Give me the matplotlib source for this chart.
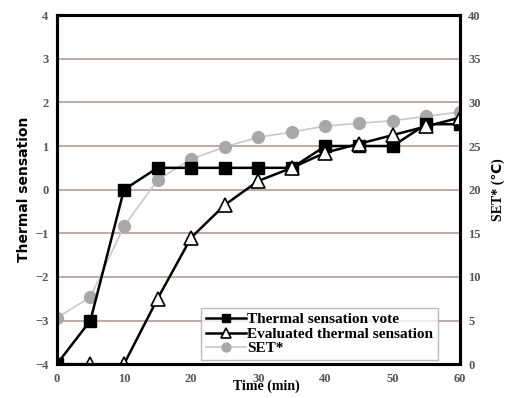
import matplotlib.pyplot as plt
import numpy as np

# time steps (min)
time = [0, 5, 10, 15, 20, 25, 30, 35, 40, 45, 50, 55, 60]

# thermal sensation vote and evaluated sensation (left axis)
vote = [-4, -3, 0, 0.5, 0.5, 0.5, 0.5, 0.5, 1, 1, 1, 1.5, 1.5]
evaluated = [-4, -4, -4, -2.5, -1.1, -0.35, 0.2, 0.5, 0.85, 1.05, 1.25, 1.45, 1.65]

# SET* (right axis, degC)
set_star = [5.3, 7.7, 15.8, 21.1, 23.5, 24.9, 26.0, 26.6, 27.3, 27.6, 27.9, 28.4, 28.9]

serif = 'Liberation Serif'
grid_col = '#b5a59f'
tick_col = '#555555'

fig = plt.figure(figsize=(5.12, 3.98), dpi=100)
ax = fig.add_axes([0.111, 0.085, 0.787, 0.877])
ax2 = ax.twinx()

# grid lives on the lower (twin) axes so everything sits on top of it
ax2.set_xlim(0, 60)
ax2.set_ylim(0, 40)
ax2.set_yticks(np.arange(0, 41, 5))
ax2.set_xticks(np.arange(0, 61, 10))
ax2.grid(True, color=grid_col, lw=1.3)
ax2.set_axisbelow(True)
ax2.plot(time, set_star, color='#c8c8c8', lw=1.2, marker='o', ms=8.5,
         mfc='#a8a8a8', mec='#a8a8a8', label='SET*', zorder=3)

ax.set_zorder(ax2.get_zorder() + 1)
ax.patch.set_visible(False)
ax.plot(time, vote, color='black', lw=1.8, marker='s', ms=8.5,
        mfc='black', mec='black', label='Thermal sensation vote')
ax.plot(time, evaluated, color='black', lw=1.8, marker='^', ms=9.5,
        mfc='white', mec='black', mew=1.2, label='Evaluated thermal sensation')
ax.set_xlim(0, 60)
ax.set_ylim(-4, 4)
ax.set_yticks(np.arange(-4, 5, 1))
ax.set_xticks(np.arange(0, 61, 10))

for a in (ax, ax2):
    a.tick_params(length=0, labelsize=9, colors=tick_col, pad=6)
    for lab in a.get_xticklabels() + a.get_yticklabels():
        lab.set_family(serif)
        lab.set_fontweight('bold')
    for s in a.spines.values():
        s.set_linewidth(2.2)
        s.set_color('black')
ax2.tick_params(labelbottom=False)

ax.set_ylabel('Thermal sensation', family='DejaVu Sans', fontweight='bold',
              fontsize=10, labelpad=3)
ax.set_xlabel('Time (min)', family=serif, fontweight='bold', fontsize=10,
              labelpad=-5)
ax.xaxis.set_label_coords(0.52, -0.045)
ax2.set_ylabel('SET* (\u2103)', family=[serif, 'DejaVu Sans'], fontweight='bold',
               fontsize=10, labelpad=8)

h1, l1 = ax.get_legend_handles_labels()
h2, l2 = ax2.get_legend_handles_labels()
leg = ax.legend(h1 + h2, l1 + l2, loc='lower right', bbox_to_anchor=(0.945, 0.012),
                prop={'family': serif, 'weight': 'bold', 'size': 11},
                frameon=True, fancybox=False, edgecolor='#aaaaaa', markerscale=0.75,
                handlelength=2.6, handletextpad=0.1, labelspacing=0.05,
                borderpad=0.3, borderaxespad=0)
leg.get_frame().set_linewidth(1.0)

fig.savefig('out.png', dpi=100)
